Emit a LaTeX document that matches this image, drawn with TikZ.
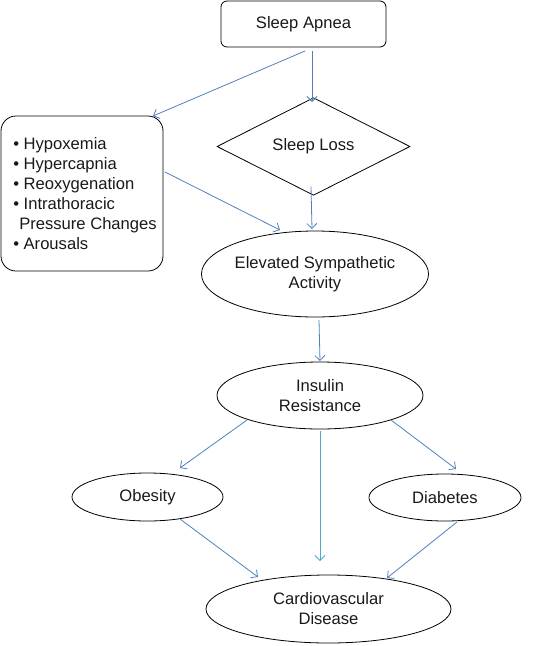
\documentclass[tikz,border=0pt]{standalone}
\usepackage{fontspec}
\setmainfont{Liberation Sans}
\usetikzlibrary{shapes.geometric,arrows.meta,calc}
\definecolor{arrowblue}{HTML}{4F81BD}
\definecolor{arrowteal}{HTML}{4BACC6}
\begin{document}
\begin{tikzpicture}[x=1pt,y=-1pt,
  shp/.style={draw=black, line width=0.8pt, font=\fontsize{16.6}{20}\selectfont, align=center, inner sep=0pt, text=black!90},
  oval/.style={shp, ellipse},
  conn/.style={draw=arrowblue, line width=0.8pt, -{Straight Barb[length=5pt,width=10pt]}},
  tealconn/.style={conn, draw=arrowteal}
]
\useasboundingbox (0,0) rectangle (537,646);

\node[shp, rectangle, rounded corners=6pt, minimum width=165pt, minimum height=46pt] (apnea) at (303.5,24) {Sleep Apnea};
\node[shp, diamond, minimum width=193pt, minimum height=79pt] (loss) at (313.5,146.5) {Sleep Loss};
\node[shp, rectangle, rounded corners=15pt, minimum width=162pt, minimum height=155pt, align=left] (box) at (82,193.5)
 {\textbullet\ Hypoxemia\\
  \textbullet\ Hypercapnia\\
  \textbullet\ Reoxygenation\\
  \textbullet\ Intrathoracic\\
  \hspace*{6pt}Pressure Changes\kern-6pt\relax\\
  \textbullet\ Arousals};
\node[oval, minimum width=210pt, minimum height=86pt] (esa) at (315,274) {Elevated Sympathetic\\Activity};
\node[oval, minimum width=206pt, minimum height=67pt] (ir) at (320,395.5) {Insulin\\Resistance};
\node[oval, minimum width=151pt, minimum height=48pt] (obesity) at (147.5,497) {Obesity};
\node[oval, minimum width=152pt, minimum height=47pt] (diabetes) at (445,497.5) {Diabetes};
\node[oval, minimum width=245pt, minimum height=68pt] (cvd) at (328.5,609) {Cardiovascular\\Disease};

\draw[conn] ($(apnea.center)+(1.5,27)$) -- ($(box.center)+(71,-77.5)$);
\draw[conn] ($(apnea.center)+(8.5,27)$) -- ($(loss.center)+(-1.5,-44.5)$);
\draw[conn] ($(box.center)+(83,-21.5)$) -- ($(esa.center)+(-35,-44)$);
\draw[conn] ($(loss.center)+(-2.5,40)$) -- ($(esa.center)+(-3,-45)$);
\draw[conn] ($(esa.center)+(4,46)$) -- ($(ir.center)+(0,-34.5)$);
\draw[conn] ($(ir.center)+(-73,24.5)$) -- ($(obesity.center)+(32.5,-29)$);
\draw[conn] ($(ir.center)+(71,24.5)$) -- ($(diabetes.center)+(11,-28.5)$);
\draw[tealconn] ($(ir.center)+(0,35.5)$) -- ($(cvd.center)+(-8.5,-48)$);
\draw[conn] ($(obesity.center)+(32.5,22)$) -- ($(cvd.center)+(-70.5,-32)$);
\draw[conn] ($(diabetes.center)+(12,24.5)$) -- ($(cvd.center)+(58.5,-31)$);
\end{tikzpicture}
\end{document}
